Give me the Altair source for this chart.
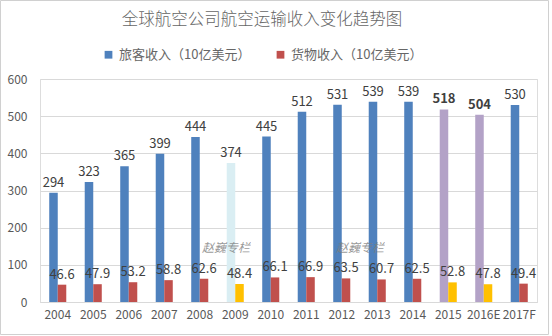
import altair as alt
import pandas as pd

years = ["2004", "2005", "2006", "2007", "2008", "2009", "2010", "2011",
         "2012", "2013", "2014", "2015", "2016E", "2017F"]
passenger = [294, 323, 365, 399, 444, 374, 445, 512, 531, 539, 539, 518, 504, 530]
cargo = [46.6, 47.9, 53.2, 58.8, 62.6, 48.4, 66.1, 66.9, 63.5, 60.7, 62.5, 52.8, 47.8, 49.4]

TITLE = "全球航空公司航空运输收入变化趋势图"
S1 = "旅客收入（10亿美元）"
S2 = "货物收入（10亿美元）"
special_2009 = ["2009"]
special_est = ["2015", "2016E"]

keys = [S1, S2, "p2009", "c2009", "pest", "cest"]
colors = ["#4F81BD", "#C0504D", "#DAEEF3", "#FFC000", "#B3A2C7", "#FFC000"]

rows = []
for y, p, c in zip(years, passenger, cargo):
    if y in special_2009:
        kp, kc = "p2009", "c2009"
    elif y in special_est:
        kp, kc = "pest", "cest"
    else:
        kp, kc = S1, S2
    rows.append({"year": y, "series": "p", "value": p, "label": f"{p:d}", "key": kp,
                 "bold": y in special_est})
    rows.append({"year": y, "series": "c", "value": c, "label": f"{c:.1f}", "key": kc,
                 "bold": False})
df = pd.DataFrame(rows)

FONT = "Noto Sans CJK SC"
GRAY = "#595959"

base = alt.Chart(df).encode(
    x=alt.X("year:N", sort=years, title=None,
            scale=alt.Scale(paddingInner=0.52, paddingOuter=0.26),
            axis=alt.Axis(labelAngle=0, ticks=False, domainColor="#D9D9D9",
                          labelFontSize=12, labelColor=GRAY, labelPadding=7,
                          labelFont=FONT)),
    xOffset=alt.XOffset("series:N", sort=["p", "c"]),
    y=alt.Y("value:Q", title=None,
            scale=alt.Scale(domain=[0, 600]),
            axis=alt.Axis(values=[0, 100, 200, 300, 400, 500, 600], domain=False,
                          ticks=False, gridColor="#D9D9D9", labelFontSize=12,
                          labelColor=GRAY, labelPadding=13, labelFont=FONT)),
)

bars = base.mark_bar().encode(
    color=alt.Color("key:N", scale=alt.Scale(domain=keys, range=colors),
                    legend=alt.Legend(values=[S1, S2], title=None, orient="none",
                                      legendX=62, legendY=-31, direction="horizontal",
                                      symbolType="square", symbolSize=60,
                                      symbolStrokeWidth=0,
                                      labelFontSize=13, labelColor="#666666", labelFont=FONT,
                                      labelLimit=300, columnPadding=23))
)

labels_norm = base.transform_filter("!datum.bold").mark_text(
    baseline="bottom", dy=-3, fontSize=13, color="#404040", font=FONT
).encode(text="label:N")

labels_bold = base.transform_filter("datum.bold").mark_text(
    baseline="bottom", dy=-3, fontSize=13, color="#404040", font=FONT, fontWeight="bold"
).encode(text="label:N")

wm_text = ["赵巍专栏", "赵巍专栏"]
wm_x = [186, 320]
wm = alt.Chart(pd.DataFrame({"t": wm_text, "px": wm_x})).mark_text(
    fontSize=12, fontStyle="italic", color="#7F7F7F", font=FONT, opacity=0.8
).encode(x=alt.X("px:Q", scale=None), y=alt.value(169), text="t:N")

title = alt.Chart(pd.DataFrame({"t": [TITLE]})).mark_text(
    fontSize=16.5, color="#666666", font=FONT, baseline="middle", align="center",
    fontWeight=300
).encode(x=alt.value(222), y=alt.value(-59), text="t:N")

border = alt.Chart(pd.DataFrame({"a": [0]})).mark_rect(
    fill=None, stroke="#D0D0D0", strokeWidth=1
).encode(x=alt.value(-39.5), x2=alt.value(508.5), y=alt.value(-78.5), y2=alt.value(255.5))

chart = alt.layer(bars, labels_norm, labels_bold, wm, title, border).properties(
    width=497, height=223,
    autosize=alt.AutoSizeParams(type="none"),
    padding={"left": 40, "top": 79, "right": 15, "bottom": 34},
).configure_view(stroke=None).configure(background="white")

chart.save("out.html", embed_options={"renderer": "svg", "actions": False})
